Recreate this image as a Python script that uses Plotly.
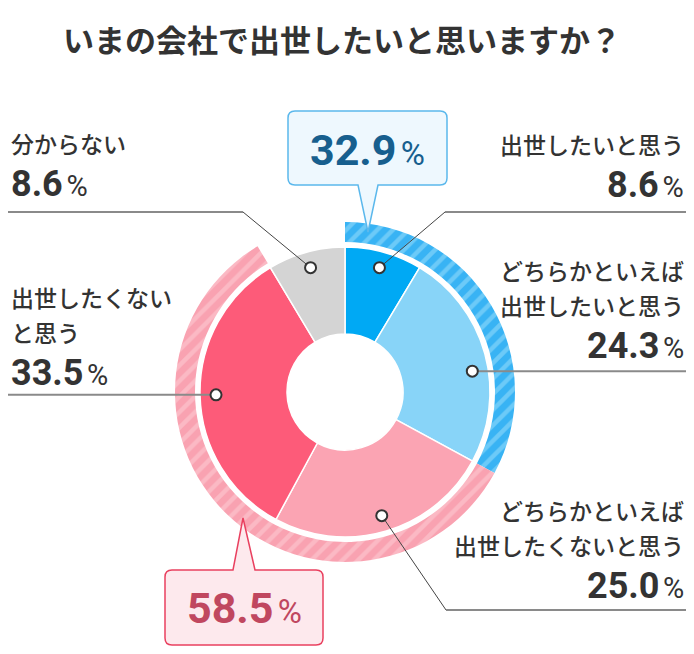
import math
import plotly.graph_objects as go

# --- data ---
categories = ["出世したいと思う", "どちらかといえば\n出世したいと思う", "どちらかといえば\n出世したくないと思う",
              "出世したくない\nと思う", "分からない"]
values = [8.6, 24.3, 25.0, 33.5, 8.6]
slice_colors = ["#00A9F4", "#88D4F8", "#FBA4B3", "#FD5B79", "#D4D4D4"]

group_names = ["出世したい", "出世したくない", "分からない"]
group_values = [values[0] + values[1], values[2] + values[3], values[4]]
group_colors = ["#38B3F4", "#F9A2B1", "rgba(0,0,0,0)"]
group_stripes = ["#6CCAF8", "#FBB9C4", "rgba(0,0,0,0)"]

title = "いまの会社で出世したいと思いますか？"

# --- page geometry (page pixels; the page body has an 8px margin) ---
PAGE_W, PAGE_H = 694, 654
OFF = 8
W, H = PAGE_W - OFF, PAGE_H - OFF
CX, CY = 345, 392
R_PIE, R_HOLE = 145, 58
R_RING_OUT, R_RING_IN = 170, 150
R_DOT = 129
JP = "Noto Sans CJK JP"
NUM = "Roboto"
TXT = "#333333"


def domain(r):
    return dict(x=[(CX - OFF - r) / W, (CX - OFF + r) / W],
                y=[(PAGE_H - CY - r) / H, (PAGE_H - CY + r) / H])


def pct(v, size, small, color=TXT):
    return (f"<span style='font-family:{NUM};font-size:{size}px;font-weight:bold;color:{color}'>{v:.1f}</span>"
            f"<span style='font-size:{small // 2}px'> </span>"
            f"<span style='font-family:{NUM};font-size:{small}px;color:{color}'>%</span>")


fig = go.Figure()

# invisible trace so the pixel axes exist
fig.add_trace(go.Scatter(x=[CX], y=[CY], mode="markers", marker=dict(opacity=0),
                         hoverinfo="skip", showlegend=False))

# outer striped ring
fig.add_trace(go.Pie(
    values=group_values, labels=group_names, sort=False, direction="clockwise", rotation=0,
    hole=R_RING_IN / R_RING_OUT, domain=domain(R_RING_OUT), textinfo="none", hoverinfo="skip",
    showlegend=False,
    marker=dict(colors=group_colors, line=dict(width=0),
                pattern=dict(shape=["/", "/", ""], fgcolor=group_stripes, bgcolor=group_colors,
                             size=11, solidity=0.4)),
))

# inner donut
fig.add_trace(go.Pie(
    values=values, labels=[c.replace("\n", "") for c in categories], sort=False,
    direction="clockwise", rotation=0, hole=R_HOLE / R_PIE, domain=domain(R_PIE),
    textinfo="none", hoverinfo="label+percent", showlegend=False,
    marker=dict(colors=slice_colors, line=dict(color="white", width=1.5)),
))

# --- leader lines, dots and labels ---
angle_shift = [0, 6, 0, 0, 0]
elbows = [(445, 212), None, (446, 610), None, (243, 212)]
sides = ["right", "right", "right", "left", "left"]
label_tops = [144, 270, 510, 297, 143]

shapes = []
annotations = []
total = sum(values)
cum = 0
for i, v in enumerate(values):
    mid = (cum + v / 2) / total * 360 + angle_shift[i]
    cum += v
    dx = CX + R_DOT * math.sin(math.radians(mid))
    dy = CY - R_DOT * math.cos(math.radians(mid))
    end_x = 690 if sides[i] == "right" else OFF
    if elbows[i]:
        ex, ey = elbows[i]
        shapes.append(dict(type="line", x0=dx, y0=dy, x1=ex, y1=ey,
                           line=dict(color="#444444", width=1), layer="above"))
    else:
        ex, ey = dx, dy
    shapes.append(dict(type="line", x0=ex, y0=ey, x1=end_x, y1=ey,
                       line=dict(color="#8A8A8A", width=2), layer="above"))
    shapes.append(dict(type="circle", x0=dx - 5.5, x1=dx + 5.5, y0=dy - 5.5, y1=dy + 5.5,
                       fillcolor="white", line=dict(color="#333333", width=2), layer="above"))

    lx = 686 if sides[i] == "right" else OFF + 1
    y = label_tops[i]
    for line in categories[i].split("\n"):
        annotations.append(dict(x=lx, y=y, text=line, showarrow=False, xanchor=sides[i],
                                yanchor="middle", font=dict(family=JP, size=23, color=TXT, weight=500)))
        y += 35
    annotations.append(dict(x=lx, y=y + 6, text=pct(v, 36, 29), showarrow=False,
                            xanchor=sides[i], yanchor="middle"))


def callout(x0, y0, x1, y1, r, px0, px1, tip, side):
    tx, ty = tip
    if side == "bottom":
        return (f"M{x0 + r},{y0} L{x1 - r},{y0} Q{x1},{y0} {x1},{y0 + r} L{x1},{y1 - r} "
                f"Q{x1},{y1} {x1 - r},{y1} L{px1},{y1} L{tx},{ty} L{px0},{y1} L{x0 + r},{y1} "
                f"Q{x0},{y1} {x0},{y1 - r} L{x0},{y0 + r} Q{x0},{y0} {x0 + r},{y0} Z")
    return (f"M{x0 + r},{y0} L{px0},{y0} L{tx},{ty} L{px1},{y0} L{x1 - r},{y0} "
            f"Q{x1},{y0} {x1},{y0 + r} L{x1},{y1 - r} Q{x1},{y1} {x1 - r},{y1} L{x0 + r},{y1} "
            f"Q{x0},{y1} {x0},{y1 - r} L{x0},{y0 + r} Q{x0},{y0} {x0 + r},{y0} Z")


shapes.append(dict(type="path", path=callout(288, 111, 447, 185, 7, 358, 378, (368, 232), "bottom"),
                   fillcolor="#EEF8FE", line=dict(color="#5BB8EC", width=1.5), layer="above"))
shapes.append(dict(type="path", path=callout(165, 570, 323, 645, 7, 233, 255, (243, 518), "top"),
                   fillcolor="#FDE9ED", line=dict(color="#E9405F", width=1.5), layer="above"))
annotations.append(dict(x=367, y=150, text=pct(group_values[0], 43, 33, "#175F8E"),
                        showarrow=False, xanchor="center", yanchor="middle"))
annotations.append(dict(x=244, y=608, text=pct(group_values[1], 43, 33, "#C0475F"),
                        showarrow=False, xanchor="center", yanchor="middle"))

annotations.append(dict(x=342, y=38, text=title, showarrow=False, xanchor="center", yanchor="middle",
                        font=dict(family=JP, size=31, color=TXT, weight="bold")))

fig.update_layout(
    width=W, height=H, margin=dict(l=0, r=0, t=0, b=0),
    paper_bgcolor="white", plot_bgcolor="white",
    xaxis=dict(range=[OFF, PAGE_W], visible=False, fixedrange=True),
    yaxis=dict(range=[PAGE_H, OFF], visible=False, fixedrange=True),
    shapes=shapes, annotations=annotations, showlegend=False,
)

fig.write_html("out.html")
